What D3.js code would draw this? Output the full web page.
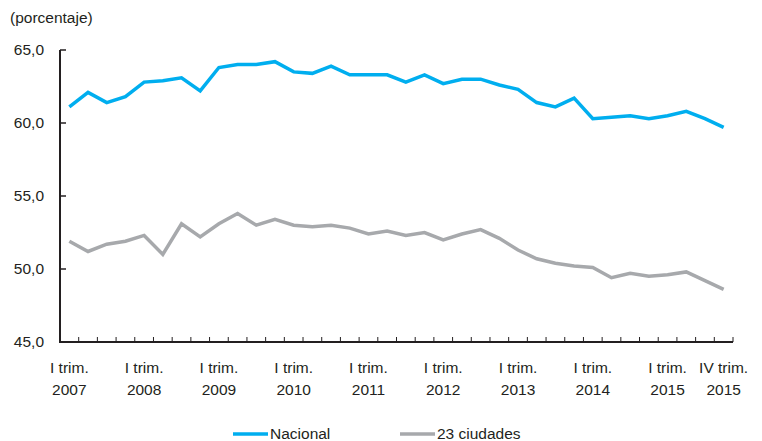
<!DOCTYPE html>
<meta charset="utf-8">
<style>
    body { margin: 0; background: #fff; }
    svg text { font-family: "Liberation Sans", Arial, sans-serif; fill: #231f20; }
</style>
<script src="https://d3js.org/d3.v7.min.js"></script>
<svg id="chart" width="762" height="441"></svg>
<script>

// quarters I-2007 .. IV-2015
var years = [2007, 2008, 2009, 2010, 2011, 2012, 2013, 2014, 2015];
var quarters = ["I", "II", "III", "IV"];

var nacional = [61.1, 62.1, 61.4, 61.8, 62.8, 62.9, 63.1, 62.2, 63.8, 64.0, 64.0, 64.2,
                63.5, 63.4, 63.9, 63.3, 63.3, 63.3, 62.8, 63.3, 62.7, 63.0, 63.0, 62.6,
                62.3, 61.4, 61.1, 61.7, 60.3, 60.4, 60.5, 60.3, 60.5, 60.8, 60.3, 59.7];

var ciudades = [51.9, 51.2, 51.7, 51.9, 52.3, 51.0, 53.1, 52.2, 53.1, 53.8, 53.0, 53.4,
                53.0, 52.9, 53.0, 52.8, 52.4, 52.6, 52.3, 52.5, 52.0, 52.4, 52.7, 52.1,
                51.3, 50.7, 50.4, 50.2, 50.1, 49.4, 49.7, 49.5, 49.6, 49.8, 49.2, 48.6];

var yTicks = [45, 50, 55, 60, 65];

var periods = [];
years.forEach(function(y) {
    quarters.forEach(function(q) { periods.push(q + "-" + y); });
});

var svg = d3.select("#chart");

var x = d3.scaleBand()
    .domain(periods)
    .range([60, 733]);

var y = d3.scaleLinear()
    .domain([45, 65])
    .range([342, 50]);

function cx(i) { return x(periods[i]) + x.bandwidth() / 2; }

// y axis
svg.append("line")
    .attr("x1", 60).attr("x2", 60)
    .attr("y1", y(65)).attr("y2", y(45))
    .attr("stroke", "#231f20").attr("stroke-width", 2);

svg.selectAll(".ytick")
    .data(yTicks)
    .enter().append("line")
    .attr("x1", 60).attr("x2", 66)
    .attr("y1", function(d) { return y(d); })
    .attr("y2", function(d) { return y(d); })
    .attr("stroke", "#231f20").attr("stroke-width", 1.5);

svg.selectAll(".ylab")
    .data(yTicks)
    .enter().append("text")
    .attr("x", 44)
    .attr("y", function(d) { return y(d); })
    .attr("dy", "0.35em")
    .attr("text-anchor", "end")
    .style("font-size", "15.5px")
    .text(function(d) { return d3.format(".1f")(d).replace(".", ","); });

svg.append("text")
    .attr("x", 10).attr("y", 23)
    .style("font-size", "15.5px")
    .text("(porcentaje)");

// x axis
svg.append("line")
    .attr("x1", 59).attr("x2", 733)
    .attr("y1", 342).attr("y2", 342)
    .attr("stroke", "#231f20").attr("stroke-width", 2);

svg.selectAll(".xtick")
    .data(periods.slice(1))
    .enter().append("line")
    .attr("x1", function(d) { return x(d); })
    .attr("x2", function(d) { return x(d); })
    .attr("y1", 342).attr("y2", 337)
    .attr("stroke", "#231f20").attr("stroke-width", 1);

svg.append("line")
    .attr("x1", 733).attr("x2", 733)
    .attr("y1", 342).attr("y2", 337)
    .attr("stroke", "#231f20").attr("stroke-width", 1);

var labelIdx = [0, 4, 8, 12, 16, 20, 24, 28, 32, 35];
var xl = svg.selectAll(".xlab")
    .data(labelIdx)
    .enter().append("text")
    .attr("text-anchor", "middle")
    .style("font-size", "15.5px");
xl.append("tspan")
    .attr("x", function(i) { return cx(i); })
    .attr("y", 373)
    .text(function(i) { return periods[i].split("-")[0] + " trim."; });
xl.append("tspan")
    .attr("x", function(i) { return cx(i); })
    .attr("y", 395)
    .text(function(i) { return periods[i].split("-")[1]; });

// lines
var line = d3.line()
    .x(function(d, i) { return cx(i); })
    .y(function(d) { return y(d); });

svg.append("path")
    .datum(ciudades)
    .attr("fill", "none")
    .attr("stroke", "#a7a9ac")
    .attr("stroke-width", 3.5)
    .attr("d", line);

svg.append("path")
    .datum(nacional)
    .attr("fill", "none")
    .attr("stroke", "#00aeef")
    .attr("stroke-width", 3.5)
    .attr("d", line);

// legend
var legend = [
    {name: "Nacional", color: "#00aeef", x: 233},
    {name: "23 ciudades", color: "#a7a9ac", x: 400}
];
var lg = svg.selectAll(".legend")
    .data(legend)
    .enter().append("g");
lg.append("line")
    .attr("x1", function(d) { return d.x; })
    .attr("x2", function(d) { return d.x + 35; })
    .attr("y1", 434).attr("y2", 434)
    .attr("stroke", function(d) { return d.color; })
    .attr("stroke-width", 3.5);
lg.append("text")
    .attr("x", function(d) { return d.x + 37; })
    .attr("y", 439)
    .style("font-size", "15.5px")
    .text(function(d) { return d.name; });

</script>
